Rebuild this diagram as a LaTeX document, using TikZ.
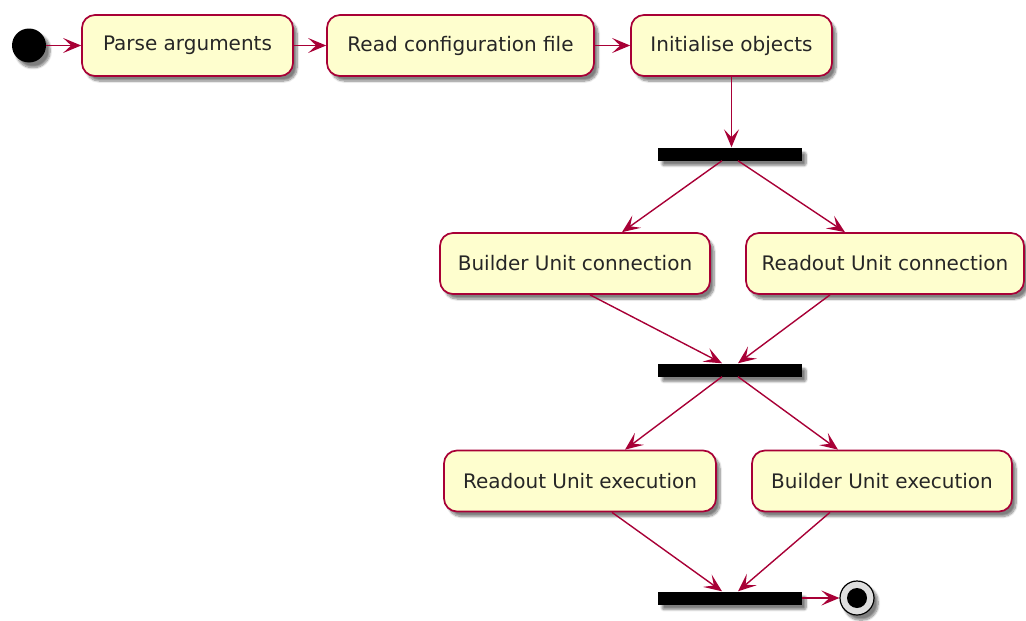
\documentclass[tikz,border=0pt]{standalone}
\usepackage{fontspec}
\setmainfont{DejaVu Sans}
\usetikzlibrary{arrows.meta,shadows.blur,calc}
\definecolor{umlred}{HTML}{A80036}
\definecolor{umlfill}{HTML}{FEFECE}
\tikzset{
  softshadow/.style={blur shadow={shadow xshift=4pt, shadow yshift=-5pt, shadow blur steps=8, shadow blur extra rounding=2pt, shadow opacity=50}},
  act/.style={draw=umlred, line width=1.7pt, fill=umlfill, rounded corners=13pt,
    minimum height=61pt, inner sep=0pt, align=center,
    font=\fontsize{20}{24}\selectfont, text=black!85, softshadow},
  bar/.style={fill=black, draw=none, minimum width=144pt, minimum height=13pt, inner sep=0pt, softshadow},
  arr/.style={draw=umlred, line width=1.4pt,
    -{Stealth[length=18pt, width=15pt, inset=8pt]}}
}
\begin{document}
\begin{tikzpicture}[x=1pt, y=-1pt]
  \useasboundingbox (0,0) rectangle (1026,621);
  % start and first row of activities
  \node[circle, fill=black, minimum size=34pt, inner sep=0pt, softshadow] (start) at (29,45.5) {};
  \node[act, minimum width=211pt] (parse) at (187.5,45.5) {Parse arguments};
  \node[act, minimum width=267pt] (read) at (460.5,45.5) {Read configuration file};
  \node[act, minimum width=201pt] (init) at (731.5,45.5) {Initialise objects};
  % fork and connections
  \node[bar] (fork1) at (730,154) {};
  \node[act, minimum width=270pt] (bconn) at (575,263.5) {Builder Unit connection};
  \node[act, minimum width=278pt] (rconn) at (885,263.5) {Readout Unit connection};
  \node[bar] (join1) at (730,370) {};
  % execution
  \node[act, minimum width=272pt] (rexec) at (580,481) {Readout Unit execution};
  \node[act, minimum width=260pt] (bexec) at (882,481) {Builder Unit execution};
  \node[bar] (join2) at (730,598) {};
  % end
  \node[circle, draw=black, line width=1.2pt, fill=gray!25, minimum size=34pt, inner sep=0pt, softshadow] (stop) at (857,598) {};
  \node[circle, fill=black, minimum size=20pt, inner sep=0pt] (stopdot) at (stop.center) {};

  % connectors
  \draw[arr] (start) -- (parse);
  \draw[arr] (parse) -- (read);
  \draw[arr] (read) -- (init);
  \draw[arr] (init.south) -- (init.south |- fork1.north);
  \draw[arr] ([xshift=-8pt]fork1.south) -- ([xshift=47pt]bconn.north);
  \draw[arr] ([xshift=8pt]fork1.south) -- ([xshift=-40pt]rconn.north);
  \draw[arr] ([xshift=15pt]bconn.south) -- ([xshift=-8pt]join1.north);
  \draw[arr] ([xshift=-55pt]rconn.south) -- ([xshift=8pt]join1.north);
  \draw[arr] ([xshift=-8pt]join1.south) -- ([xshift=45pt]rexec.north);
  \draw[arr] ([xshift=8pt]join1.south) -- ([xshift=-44pt]bexec.north);
  \draw[arr] ([xshift=32pt]rexec.south) -- ([xshift=-8pt]join2.north);
  \draw[arr] ([xshift=-52pt]bexec.south) -- ([xshift=8pt]join2.north);
  \draw[arr] (join2.east) -- (stop.west);
\end{tikzpicture}
\end{document}
